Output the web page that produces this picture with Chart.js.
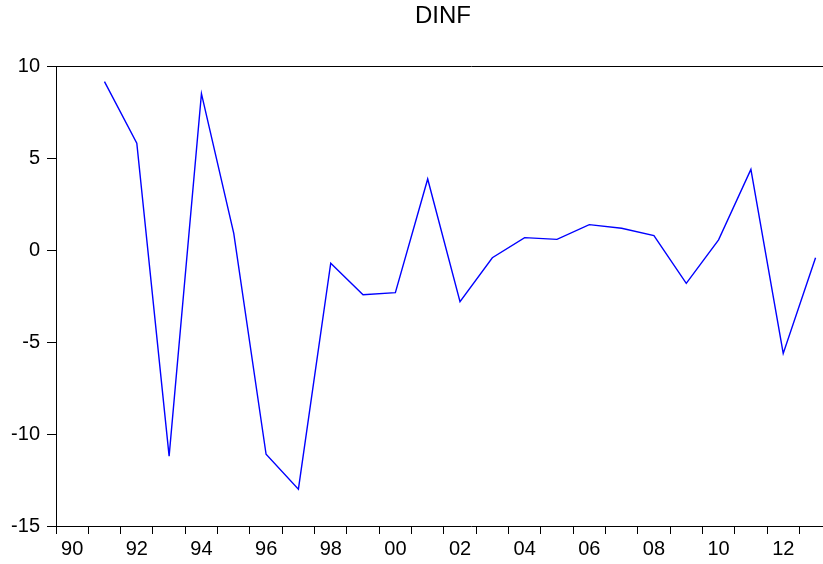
<!DOCTYPE html>
<html>
<head>
<meta charset="utf-8">
<title>DINF</title>
<script src="https://cdn.jsdelivr.net/npm/chart.js@4.4.1/dist/chart.umd.min.js"></script>
<style>
  html, body { margin: 0; padding: 0; background: #fff; overflow: hidden; }
  /* the plot runs past the window's right edge */
  #wrap { width: 823px; height: 564px; overflow: hidden; }
  #inner { width: 886px; height: 564px; }
</style>
</head>
<body>
<div id="wrap"><div id="inner"><canvas id="dinf"></canvas></div></div>
<script>
// --- Series: annual change in inflation, 1991-2013 ---
const years = [1991, 1992, 1993, 1994, 1995, 1996, 1997, 1998, 1999, 2000, 2001, 2002,
               2003, 2004, 2005, 2006, 2007, 2008, 2009, 2010, 2011, 2012, 2013];
const dinf = [9.15, 5.8, -11.2, 8.5, 0.9, -11.1, -13.0, -0.72, -2.43, -2.32, 3.86, -2.81,
              -0.42, 0.67, 0.58, 1.38, 1.18, 0.78, -1.81, 0.55, 4.38, -5.62, -0.42];

// --- Axis ticks ---
const yearTicks = [];
for (let y = 1990; y <= 2014; y++) yearTicks.push(y);
const yTicks = [10, 5, 0, -5, -10, -15];

const FONT = 'Liberation Sans, Arial, sans-serif';

// each year sits in the middle of its band
const points = years.map((yr, i) => ({ x: yr + 0.5, y: dinf[i] }));

new Chart(document.getElementById('dinf'), {
  type: 'line',
  data: {
    datasets: [{
      label: 'DINF',
      data: points,
      borderColor: '#0000FF',
      borderWidth: 1.4,
      pointRadius: 0,
      tension: 0,
      fill: false
    }]
  },
  options: {
    responsive: true,
    maintainAspectRatio: false,
    animation: false,
    layout: { padding: 0 },
    plugins: {
      legend: { display: false },
      tooltip: { enabled: false },
      title: {
        display: true,
        text: 'DINF',
        color: '#000',
        font: { family: FONT, size: 24, weight: 'normal' },
        padding: { top: 2, bottom: 35.2 }
      }
    },
    scales: {
      x: {
        type: 'linear',
        min: 1990,
        max: 2015.68,
        afterBuildTicks: axis => { axis.ticks = yearTicks.map(v => ({ value: v })); },
        afterFit: scale => { scale.height = 38; },
        border: { display: true, color: '#000', width: 1 },
        grid: { drawOnChartArea: false, tickLength: 8, tickColor: '#000', tickWidth: 1 },
        ticks: {
          autoSkip: false,
          maxRotation: 0,
          labelOffset: 16.2,
          padding: 3,
          color: '#000',
          font: { family: FONT, size: 20 },
          callback: v => (v % 2 === 0 && v < 2014 ? String(v).slice(2) : '')
        }
      },
      y: {
        min: -15,
        max: 10,
        afterBuildTicks: axis => { axis.ticks = yTicks.map(v => ({ value: v })); },
        afterFit: scale => { scale.width = 56; },
        border: { display: true, color: '#000', width: 1 },
        grid: {
          // only the top line is drawn across the plot, as a frame edge
          color: ctx => (ctx.tick && ctx.tick.value === 10 ? '#000' : 'rgba(0,0,0,0)'),
          tickColor: '#000',
          tickLength: 9,
          lineWidth: 1
        },
        ticks: {
          padding: 7,
          color: '#000',
          font: { family: FONT, size: 20 }
        }
      }
    }
  }
});
</script>
</body>
</html>
